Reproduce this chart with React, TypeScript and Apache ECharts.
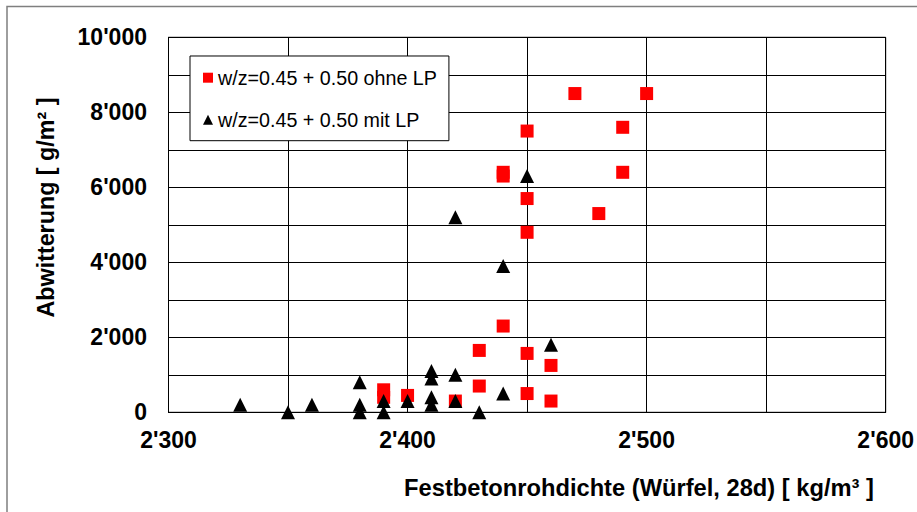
import React, { useEffect, useRef } from "react";
import * as echarts from "echarts";

const seriesNames = ["w/z=0.45 + 0.50 ohne LP", "w/z=0.45 + 0.50 mit LP"];

const ohneX = [2470, 2500, 2450, 2490, 2440, 2440, 2490, 2450, 2480, 2450, 2440, 2430, 2450, 2460, 2430, 2450, 2460, 2420, 2400, 2390, 2390];
const ohneY = [8500, 8500, 7500, 7600, 6400, 6300, 6400, 5700, 5300, 4800, 2300, 1650, 1570, 1250, 700, 500, 300, 300, 450, 600, 400];

const mitX = [2450, 2420, 2440, 2460, 2440, 2430, 2420, 2410, 2410, 2410, 2410, 2400, 2390, 2390, 2380, 2380, 2380, 2360, 2350, 2330, 2420];
const mitY = [6300, 5200, 3900, 1800, 500, 0, 1000, 1100, 900, 400, 200, 300, 300, 0, 800, 200, 0, 200, 0, 200, 300];

const xTitle = "Festbetonrohdichte (Würfel, 28d) [ kg/m³ ]";
const yTitle = "Abwitterung [ g/m² ]";

const FONT = "'Liberation Sans', Arial, sans-serif";

function fmt(v: number): string {
  const s = String(Math.round(v));
  return s.replace(/\B(?=(\d{3})+(?!\d))/g, "'");
}

export default function App() {
  const ref = useRef<HTMLDivElement>(null);
  useEffect(() => {
    if (!ref.current) return;
    const chart = echarts.init(ref.current, null, { renderer: "svg" });
    chart.setOption({
      animation: false,
      backgroundColor: "#fff",
      grid: {
        left: 168.5,
        top: 37.3,
        width: 719,
        height: 375,
        show: true,
        borderColor: "#000",
        borderWidth: 1,
        backgroundColor: "transparent",
      },
      legend: {
        orient: "vertical",
        left: 190,
        top: 56,
        padding: [11.7, 12, 11, 13],
        itemGap: 22,
        itemWidth: 10,
        itemHeight: 10,
        backgroundColor: "#fff",
        borderColor: "#000",
        borderWidth: 1,
        textStyle: { fontFamily: FONT, fontSize: 19.7, color: "#000", lineHeight: 20 },
        data: [
          { name: seriesNames[0], icon: "rect" },
          { name: seriesNames[1], icon: "triangle" },
        ],
      },
      xAxis: {
        type: "value",
        min: 2300,
        max: 2600,
        interval: 50,
        axisLine: { show: true, onZero: false, lineStyle: { color: "#000", width: 1 } },
        axisTick: { show: false },
        splitLine: { show: true, lineStyle: { color: "#000", width: 1 } },
        axisLabel: {
          margin: 16,
          fontFamily: FONT,
          fontSize: 23,
          fontWeight: "bold",
          color: "#000",
          formatter: (v: number) => (v % 100 === 0 ? fmt(v) : ""),
        },
      },
      yAxis: {
        type: "value",
        min: 0,
        max: 10000,
        interval: 1000,
        axisLine: { show: true, onZero: false, lineStyle: { color: "#000", width: 1 } },
        axisTick: { show: false },
        splitLine: { show: true, lineStyle: { color: "#000", width: 1 } },
        axisLabel: {
          margin: 21.5,
          fontFamily: FONT,
          fontSize: 23,
          fontWeight: "bold",
          color: "#000",
          formatter: (v: number) => (v % 2000 === 0 ? fmt(v) : ""),
        },
      },
      series: [
        {
          name: seriesNames[0],
          type: "scatter",
          symbol: "rect",
          symbolSize: 13,
          itemStyle: { color: "#ff0000", opacity: 1 },
          data: ohneX.map((x, i) => [x, ohneY[i]]),
          z: 3,
        },
        {
          name: seriesNames[1],
          type: "scatter",
          symbol: "triangle",
          symbolSize: [14, 14],
          itemStyle: { color: "#000", opacity: 1 },
          data: mitX.map((x, i) => [x, mitY[i]]),
          z: 4,
        },
      ],
      graphic: [
        {
          type: "rect",
          shape: { x: 7, y: 6.5, width: 940, height: 540 },
          style: { fill: "none", stroke: "#7f7f7f", lineWidth: 1.5 },
          silent: true,
        },
        {
          type: "text",
          x: 45.5,
          y: 207.5,
          rotation: Math.PI / 2,
          style: {
            text: yTitle,
            fontFamily: FONT,
            fontSize: 23.3,
            fontWeight: "bold",
            fill: "#000",
            align: "center",
            verticalAlign: "middle",
          },
        },
        {
          type: "text",
          x: 639,
          y: 488,
          style: {
            text: xTitle,
            fontFamily: FONT,
            fontSize: 23.7,
            fontWeight: "bold",
            fill: "#000",
            align: "center",
            verticalAlign: "middle",
          },
        },
      ],
    });
    return () => chart.dispose();
  }, []);
  return (
    <div
      ref={ref}
      style={{ position: "absolute", left: 0, top: 0, width: 917, height: 512 }}
    />
  );
}
